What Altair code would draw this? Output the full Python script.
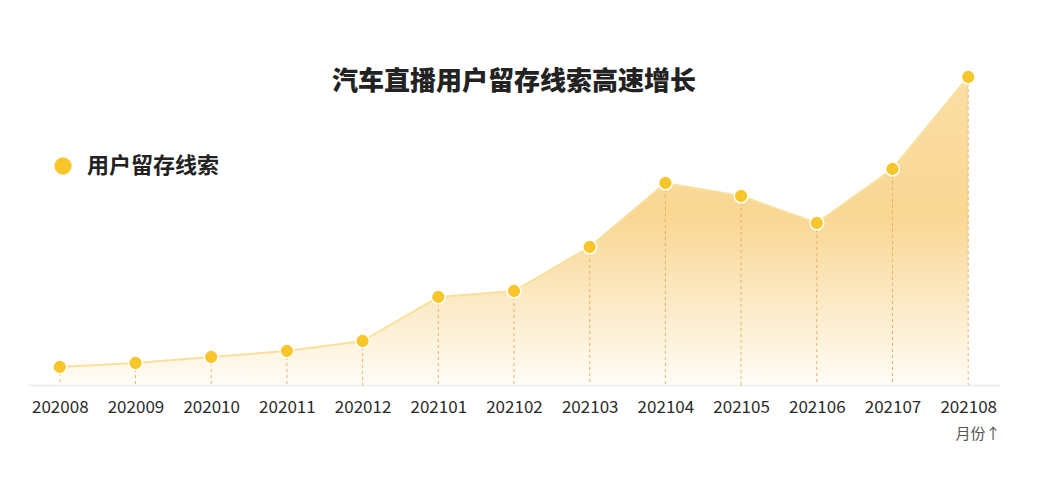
import altair as alt
import pandas as pd

months = ["202008", "202009", "202010", "202011", "202012", "202101", "202102",
          "202103", "202104", "202105", "202106", "202107", "202108"]
values = [18, 22, 28, 34, 44, 88, 94, 138, 202, 189, 162, 216, 308]
series = ["用户留存线索"] * len(months)

df = pd.DataFrame({"month": months, "value": values, "series": series})

FONT = "Noto Sans CJK SC"

x_enc = alt.X(
    "month:O",
    sort=months,
    scale=alt.Scale(type="point", padding=0.42),
    axis=alt.Axis(
        title="月份↑",
        titleAnchor="end",
        titleAlign="right",
        titleFontSize=15,
        titleFontWeight="normal",
        titleColor="#555555",
        titleFont=FONT,
        titlePadding=11,
        labelFont=FONT,
        labelFontSize=17,
        labelColor="#2a2a2a",
        labelPadding=14,
        labelAngle=0,
        ticks=False,
        domainColor="#eeeeee",
        domainWidth=2,
        grid=False,
    ),
)
y_enc = alt.Y("value:Q", scale=alt.Scale(domain=[0, 320], nice=False), axis=None)

base = alt.Chart(df).encode(x=x_enc, y=y_enc)

area = base.mark_area(
    color=alt.Gradient(
        gradient="linear",
        stops=[
            alt.GradientStop(color="#fbdca0", offset=0),
            alt.GradientStop(color="#f9d48d", offset=0.45),
            alt.GradientStop(color="#fffcf5", offset=1),
        ],
        x1=1, x2=1, y1=0, y2=1,
    ),
    opacity=0.95,
)

rules = base.mark_rule(
    color="#e4a65a", strokeDash=[3, 3], strokeWidth=1, opacity=0.85
).encode(y2=alt.datum(0))

line = base.mark_line(color="#f9e09a", strokeWidth=2)

points = base.mark_point(
    filled=True, size=190, stroke="white", strokeWidth=1.5, opacity=1
).encode(
    color=alt.Color(
        "series:N",
        scale=alt.Scale(range=["#f8c62a"]),
        legend=alt.Legend(
            title=None,
            orient="none",
            legendX=24,
            legendY=90,
            symbolType="circle",
            symbolSize=300,
            symbolStrokeWidth=0,
            symbolOpacity=1,
            labelFont=FONT,
            labelFontSize=22,
            labelFontWeight="bold",
            labelColor="#222222",
            labelOffset=13,
            padding=0,
        ),
    )
)

chart = (
    alt.layer(area, rules, line, points)
    .properties(
        width=972,
        height=320,
        background="white",
        autosize=alt.AutoSizeParams(type="none"),
        padding={"left": 20, "top": 57, "right": 30, "bottom": 100},
        title=alt.TitleParams(
            text="汽车直播用户留存线索高速增长",
            font=FONT,
            fontSize=26,
            fontWeight=900,
            color="#222222",
            anchor="middle",
            offset=0,
            dy=30,
        ),
    )
    .configure_view(strokeWidth=0, stroke=None)
)

chart.save("out.html", embed_options={"renderer": "svg", "actions": False})
